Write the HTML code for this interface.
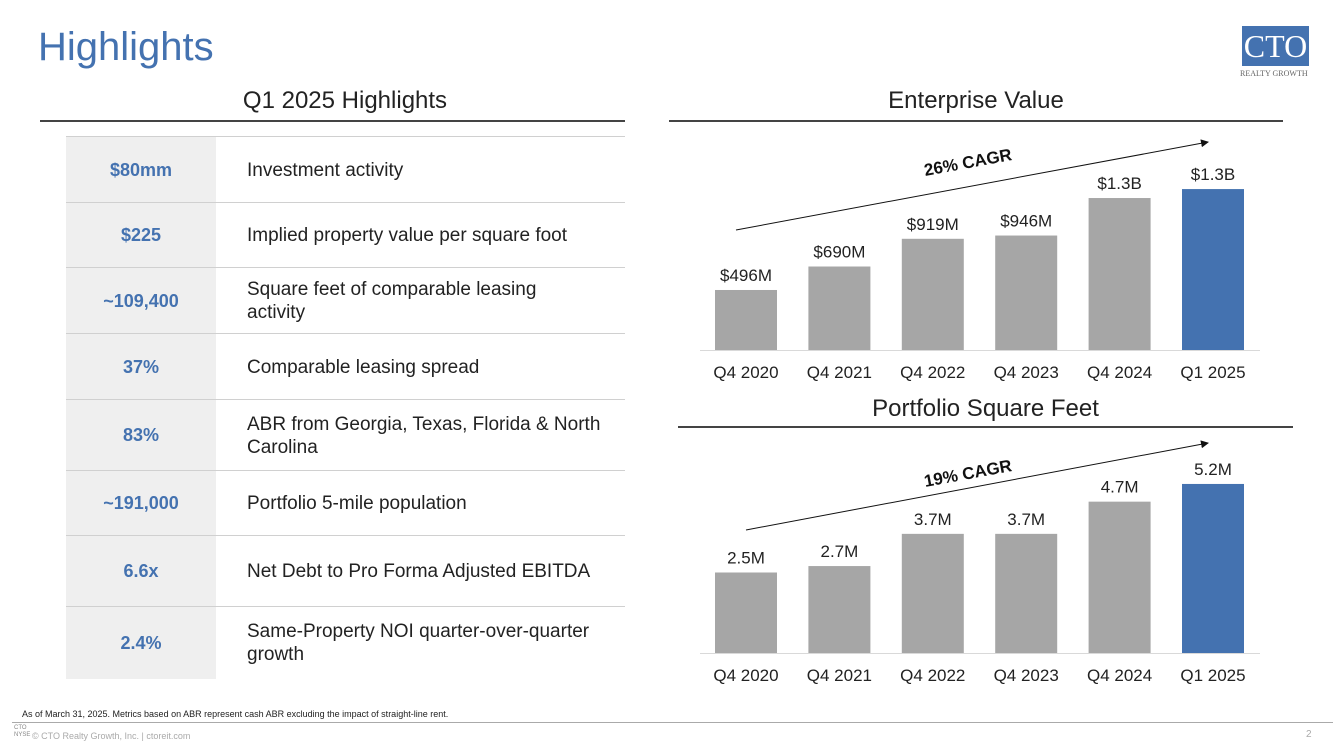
<!DOCTYPE html>
<html><head><meta charset="utf-8"><style>
body{margin:0;width:1333px;height:749px;background:#fff;font-family:"Liberation Sans",sans-serif;position:relative;overflow:hidden}
.a{position:absolute}
.row{position:absolute;left:66px;width:559px;border-top:1px solid #d0d0d0}
.row .k{position:absolute;left:0;top:0;bottom:0;width:150px;background:#efefef;color:#4472b0;font-weight:bold;font-size:18px;display:flex;align-items:center;justify-content:center}
.row .v{position:absolute;left:181px;width:370px;top:0;bottom:0;display:flex;align-items:center;font-size:19px;color:#222;line-height:23px}
</style></head><body>
<div class="a" style="left:38px;top:25px;font-size:40px;color:#4472b0">Highlights</div>
<div class="a" style="left:1242px;top:26px;width:67px;height:40px;background:#4472b0;color:#fff;font-family:'Liberation Serif',serif;font-size:32px;text-align:center;line-height:40px">CTO</div>
<div class="a" style="left:1240px;top:69px;font-family:'Liberation Serif',serif;font-size:8px;color:#666">REALTY GROWTH</div>

<div class="a" style="left:40px;width:610px;top:87px;text-align:center;font-size:24px;color:#222">Q1 2025 Highlights</div>
<div class="a" style="left:40px;top:120px;width:585px;height:2px;background:#444"></div>
<div id="tbl"></div>

<div class="a" style="left:669px;width:614px;top:87px;text-align:center;font-size:24px;color:#222">Enterprise Value</div>
<div class="a" style="left:669px;top:120px;width:614px;height:2px;background:#444"></div>
<div class="a" style="left:678px;width:615px;top:395px;text-align:center;font-size:24px;color:#222">Portfolio Square Feet</div>
<div class="a" style="left:678px;top:426px;width:615px;height:2px;background:#444"></div>

<svg class="a" style="left:0;top:0" width="1333" height="749" id="svg"></svg>

<div class="a" style="left:22px;top:709px;font-size:9px;color:#222">As of March 31, 2025. Metrics based on ABR represent cash ABR excluding the impact of straight-line rent.</div>
<div class="a" style="left:12px;top:722px;width:1321px;height:1px;background:#aaa"></div>
<div class="a" style="left:32px;top:731px;font-size:9px;color:#aaa">© CTO Realty Growth, Inc. | ctoreit.com</div>
<div class="a" style="left:14px;top:725px;font-size:6px;color:#888;line-height:7px">CTO<br>NYSE</div>
<div class="a" style="left:1306px;top:729px;font-size:10px;color:#aaa">2</div>

<script>
const rowKeys=["$80mm","$225","~109,400","37%","83%","~191,000","6.6x","2.4%"];
const rowVals=["Investment activity","Implied property value per square foot","Square feet of comparable leasing<br>activity","Comparable leasing spread","ABR from Georgia, Texas, Florida &amp; North Carolina","Portfolio 5-mile population","Net Debt to Pro Forma Adjusted EBITDA","Same-Property NOI quarter-over-quarter growth"];
const ys=[136,202,267,333,399,470,535,606,678];
const tbl=document.getElementById('tbl');
rowKeys.forEach((k,i)=>{const r=document.createElement('div');r.className='row';


r.style.top=ys[i]+'px';r.style.height=(ys[i+1]-ys[i])+'px';
r.innerHTML='<div class="k">'+k+'</div><div class="v"><span>'+rowVals[i]+'</span></div>';tbl.appendChild(r);});

const cats=["Q4 2020","Q4 2021","Q4 2022","Q4 2023","Q4 2024","Q1 2025"];
const evVals=[496,690,919,946,1256,1330];
const evLabels=["$496M","$690M","$919M","$946M","$1.3B","$1.3B"];
const sqVals=[2.5,2.7,3.7,3.7,4.7,5.25];
const sqLabels=["2.5M","2.7M","3.7M","3.7M","4.7M","5.2M"];
const svg=document.getElementById('svg');const NS='http://www.w3.org/2000/svg';
function mk(t,a,txt){const e=document.createElementNS(NS,t);for(const k in a)e.setAttribute(k,a[k]);if(txt)e.textContent=txt;svg.appendChild(e);return e;}
const xc=i=>746+i*93.4;
function chart(vals,labels,base,scale,name,x0,x1){
 mk('line',{x1:x0,x2:x1,y1:base+0.5,y2:base+0.5,stroke:'#d9d9d9','stroke-width':1});
 vals.forEach((v,i)=>{const h=v*scale;
  const b=mk('rect',{x:xc(i)-31,y:base-h,width:62,height:h,fill:i==5?'#4472b0':'#a6a6a6'});
  
  
  const t=mk('text',{x:xc(i),y:base-h-9,'text-anchor':'middle','font-size':17,fill:'#222'},labels[i]);
  
  
  const c=mk('text',{x:xc(i),y:base+28,'text-anchor':'middle','font-size':17,fill:'#222'},cats[i]);
  
  
 });
}
chart(evVals,evLabels,350,0.121,'ev',700,1260);
chart(sqVals,sqLabels,653,32.2,'sqft',700,1260);
mk('defs',{}).innerHTML='<marker id="ar" markerWidth="8" markerHeight="8" refX="7" refY="4" orient="auto"><path d="M0,0 L8,4 L0,8 z" fill="#111"/></marker>';
mk('line',{x1:736,y1:230,x2:1208,y2:142,stroke:'#111','stroke-width':1,'marker-end':'url(#ar)'});
mk('line',{x1:746,y1:530,x2:1208,y2:443,stroke:'#111','stroke-width':1,'marker-end':'url(#ar)'});
const g1=mk('text',{x:968,y:168,'text-anchor':'middle','font-size':17,'font-weight':'bold',fill:'#111',transform:'rotate(-10.5 968 163)'},'26% CAGR');


const g2=mk('text',{x:968,y:479,'text-anchor':'middle','font-size':17,'font-weight':'bold',fill:'#111',transform:'rotate(-10.5 968 474)'},'19% CAGR');


</script>
</body></html>
